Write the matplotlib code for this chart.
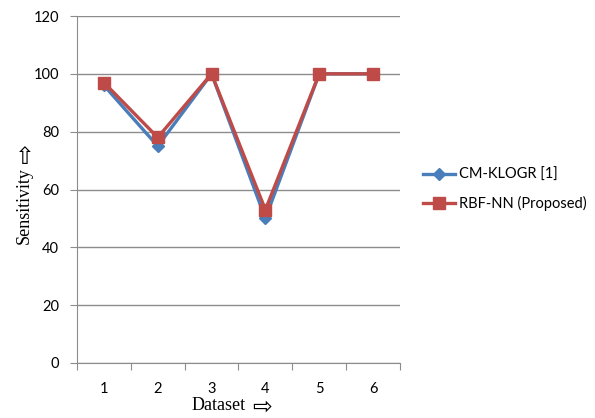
import matplotlib.pyplot as plt
from matplotlib.ticker import FixedLocator

datasets = [1, 2, 3, 4, 5, 6]
cm_klogr = [96, 75, 100, 50, 100, 100]
rbf_nn = [97, 78, 100, 53, 100, 100]
yticks = [0, 20, 40, 60, 80, 100, 120]

W, H = 595, 418
fig = plt.figure(figsize=(W / 100, H / 100), dpi=100)
ax = fig.add_axes([0.1294, 0.1316, 0.5428, 0.8301])

ax.plot(datasets, cm_klogr, color='#4A7EBB', lw=2.4, marker='D', ms=6,
        label='CM-KLOGR [1]', zorder=3)
ax.plot(datasets, rbf_nn, color='#BE4B48', lw=2.4, marker='s', ms=8,
        label='RBF-NN (Proposed)', zorder=4)

ax.set_xlim(0.5, 6.5)
ax.set_ylim(0, 120)
ax.set_yticks(yticks)
ax.yaxis.grid(True, color='#8c8c8c', lw=1)
ax.set_axisbelow(True)

# category ticks sit between the points, labels under each point
ax.xaxis.set_major_locator(FixedLocator([0.5 + i for i in range(7)]))
ax.xaxis.set_major_formatter(plt.NullFormatter())
ax.xaxis.set_minor_locator(FixedLocator(datasets))
ax.set_xticklabels([str(d) for d in datasets], minor=True)
ax.tick_params(axis='x', which='major', direction='out', length=5, color='#8c8c8c')
ax.tick_params(axis='x', which='minor', length=0, pad=14, labelsize=10.5)
ax.tick_params(axis='y', direction='out', length=5, color='#8c8c8c', labelsize=10.5, pad=8)
for lab in ax.get_xticklabels(minor=True) + ax.get_yticklabels():
    lab.set_family('Lato')

for side in ('top', 'right'):
    ax.spines[side].set_visible(False)
for side in ('left', 'bottom'):
    ax.spines[side].set_color('#8c8c8c')

# axis titles with hollow arrows, placed in figure pixels
serif = 'Liberation Serif'
fig.text(219 / W, 1 - 406 / H, 'Dataset', family=serif, fontsize=13,
         ha='center', va='center')
fig.text(262 / W, 1 - 407 / H, '\u21e8', family='DejaVu Sans', fontsize=17,
         ha='center', va='center')
fig.text(24 / W, 1 - 206 / H, 'Sensitivity', family=serif, fontsize=13,
         rotation=90, ha='center', va='center')
fig.text(25 / W, 1 - 157 / H, '\u21e7', family='DejaVu Sans', fontsize=17,
         ha='center', va='center')

ax.legend(loc='center left', bbox_to_anchor=(1.03, 0.5), frameon=False,
          prop={'family': 'Lato', 'size': 10.5}, handlelength=2.2,
          handletextpad=0.3, labelspacing=1.0)

fig.savefig('out.png', dpi=100)
